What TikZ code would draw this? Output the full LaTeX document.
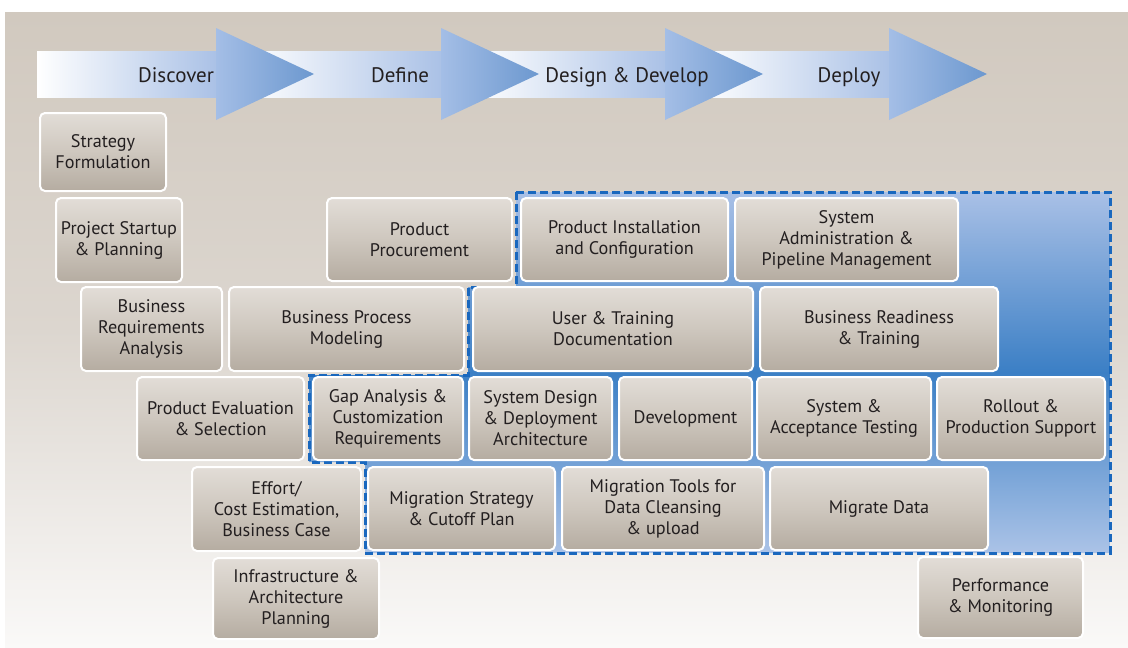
\documentclass[tikz,border=0pt]{standalone}
\usepackage{fontspec}
\setmainfont{PT Sans}
\definecolor{bgtop}{HTML}{D1C9BF}
\definecolor{bgmid}{HTML}{DCD6CF}
\definecolor{bgbot}{HTML}{FAF9F8}
\definecolor{boxtop}{HTML}{E2DDD7}
\definecolor{boxmid}{HTML}{CEC7BE}
\definecolor{boxbot}{HTML}{B5ACA1}
\definecolor{txt}{HTML}{231F20}
\definecolor{dashblue}{HTML}{1A68BE}
\definecolor{regtop}{HTML}{A9C0E6}
\definecolor{regmid}{HTML}{3B7FC5}
\definecolor{regbot}{HTML}{ABC3E7}
\definecolor{headl}{HTML}{A4BEE6}
\definecolor{headr}{HTML}{6C98CF}
\definecolor{bodyr}{HTML}{AAC1E6}
\newcommand\bxnode[6]{\node[box, minimum width={(#4-#2)*1pt}, minimum height={(#5-#3)*1pt}] (#1) at ({(#2+#4)/2},{(#3+#5)/2}) {#6};}
\begin{document}
\begin{tikzpicture}[x=1pt,y=-1pt,
  box/.style={draw=white, line width=2pt, rounded corners=5pt,
    top color=boxtop, bottom color=boxbot, middle color=boxmid,
    align=center, inner sep=0pt, text=txt,
    font=\fontsize{18.2}{21}\selectfont},
  phase/.style={anchor=base, text=txt, inner sep=0pt, font=\fontsize{21}{24}\selectfont},
  arrbody/.style={left color=white, right color=bodyr},
  arrhead/.style={left color=headl, right color=headr},
  region/.style={top color=regtop, bottom color=regbot, middle color=regmid,
    draw=dashblue, line width=3pt, dash pattern=on 8pt off 4pt}]
\useasboundingbox (0,0) rectangle (1128,648);
\fill[white] (0,0) rectangle (1128,648);
\shade[top color=bgtop, bottom color=bgbot, middle color=bgmid] (5,12) rectangle (1128,648);
% arrow bodies
\shade[arrbody] (37,51) rectangle (217,97);
\shade[arrbody] (245,51) rectangle (442,97);
\shade[arrbody] (472,51) rectangle (666,97);
\shade[arrbody] (700,51) rectangle (890,97);
% arrow heads
\shade[arrhead] (216,28) -- (314,74) -- (216,120) -- cycle;
\shade[arrhead] (441,28) -- (539,74) -- (441,120) -- cycle;
\shade[arrhead] (665,28) -- (763,74) -- (665,120) -- cycle;
\shade[arrhead] (889,28) -- (987,74) -- (889,120) -- cycle;
\node[phase] (ph1) at (176,82) {Discover};
\node[phase] (ph2) at (400,82) {Define};
\node[phase] (ph3) at (627,82) {Design \& Develop};
\node[phase] (ph4) at (849,82) {Deploy};
% dashed region
\shadedraw[region] (516,192) -- (1110,192) -- (1110,553) -- (365,553) -- (365,462) -- (309,462) -- (309,375) -- (468,375) -- (468,287) -- (516,287) -- cycle;
% boxes
\bxnode{b1}{40}{113}{166}{191}{Strategy\\Formulation}
\bxnode{b2}{56}{198}{182}{282}{Project Startup\\\& Planning}
\bxnode{b3}{81}{287}{222}{371}{Business\\Requirements\\Analysis}
\bxnode{b4}{229}{287}{464}{371}{Business Process\\Modeling}
\bxnode{b5}{327}{198}{512}{281}{Product\\Procurement}
\bxnode{b6}{521}{198}{728}{281}{Product Installation\\and Configuration}
\bxnode{b7}{735}{198}{958}{281}{System\\Administration \&\\Pipeline Management}
\bxnode{b8}{473}{287}{753}{371}{User \& Training\\Documentation}
\bxnode{b9}{760}{287}{998}{371}{Business Readiness\\\& Training}
\bxnode{b10}{137}{377}{304}{460}{Product Evaluation\\\& Selection}
\bxnode{b11}{313}{377}{463}{460}{Gap Analysis \&\\Customization\\Requirements}
\bxnode{b12}{469}{377}{612}{460}{System Design\\\& Deployment\\Architecture}
\bxnode{b13}{619}{377}{752}{460}{Development}
\bxnode{b14}{757}{377}{931}{460}{System \&\\Acceptance Testing}
\bxnode{b15}{937}{377}{1105}{460}{Rollout \&\\Production Support}
\bxnode{b16}{192}{467}{361}{551}{Effort/\\Cost Estimation,\\Business Case}
\bxnode{b17}{368}{467}{555}{550}{Migration Strategy\\\& Cutoff Plan}
\bxnode{b18}{562}{467}{764}{550}{Migration Tools for\\Data Cleansing\\\& upload}
\bxnode{b19}{770}{467}{988}{550}{Migrate Data}
\bxnode{b20}{213}{558}{379}{639}{Infrastructure \&\\Architecture\\Planning}
\bxnode{b21}{918}{557}{1083}{638}{Performance\\\& Monitoring}
\end{tikzpicture}
\end{document}
